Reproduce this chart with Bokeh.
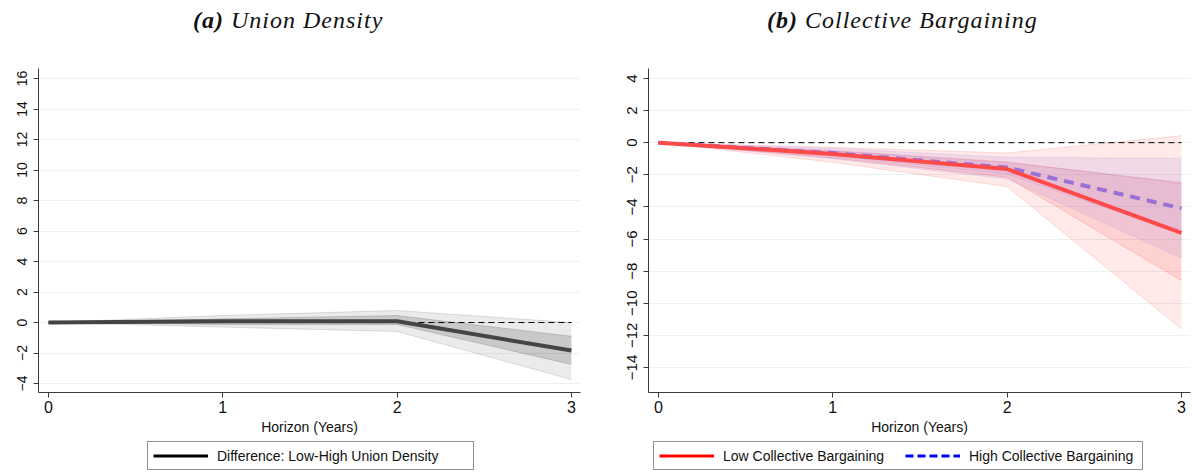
from bokeh.plotting import figure
from bokeh.models import FixedTicker, Legend, LegendItem, Range1d, Div
from bokeh.layouts import row, column
from bokeh.embed import file_html
from bokeh.resources import INLINE

horizon = [0, 1, 2, 3]
zero_line = [0, 0, 0, 0]

# (a) Union density: low minus high union density response
ud_diff = [0.0, 0.08, 0.08, -1.84]
ud_hi_outer = [0.0, 0.46, 0.79, 0.0]
ud_lo_outer = [0.0, -0.30, -0.59, -3.74]
ud_hi_inner = [0.0, 0.24, 0.46, -0.90]
ud_lo_inner = [0.0, -0.13, -0.13, -2.75]
ud_yticks = [-4, -2, 0, 2, 4, 6, 8, 10, 12, 14, 16]

# (b) Collective bargaining: low vs high coverage responses
low_cb = [0.0, -0.70, -1.64, -5.62]
low_hi_outer = [0.0, -0.29, -0.64, 0.44]
low_lo_outer = [0.0, -1.22, -2.74, -11.60]
low_hi_inner = [0.0, -0.50, -1.20, -2.53]
low_lo_inner = [0.0, -0.95, -2.15, -8.59]
high_cb = [0.0, -0.65, -1.55, -4.09]
high_hi_outer = [0.0, -0.35, -0.91, -0.98]
high_lo_outer = [0.0, -1.00, -2.26, -7.18]
high_hi_inner = [0.0, -0.50, -1.25, -2.45]
high_lo_inner = [0.0, -0.85, -1.95, -5.70]
cb_yticks = [-14, -12, -10, -8, -6, -4, -2, 0, 2, 4]

xticks = [0, 1, 2, 3]

SANS = "Liberation Sans"
SERIF = "Liberation Serif"
NAN = float("nan")


def make_panel(y_range, yticks, left_border, right_border, ytick_size):
    p = figure(width=left_border + 542 + right_border, height=381,
               x_range=Range1d(-0.057, 3.052), y_range=y_range,
               output_backend="svg", toolbar_location=None,
               min_border_left=left_border, min_border_right=right_border,
               min_border_top=8, min_border_bottom=49)
    p.outline_line_color = None
    p.xgrid.grid_line_color = None
    p.ygrid.grid_line_color = "#e9f1f2"
    p.xaxis.ticker = FixedTicker(ticks=xticks)
    p.yaxis.ticker = FixedTicker(ticks=yticks)
    for ax in (p.xaxis, p.yaxis):
        ax.axis_line_color = "#3a3a3a"
        ax.major_tick_line_color = "#3a3a3a"
        ax.major_tick_out = 5
        ax.major_tick_in = 0
        ax.minor_tick_line_color = None
        ax.major_label_text_font = SANS
        ax.major_label_text_color = "#111111"
    p.xaxis.major_label_text_font_size = "16px"
    p.xaxis.major_label_standoff = 3
    p.yaxis.major_label_text_font_size = ytick_size
    p.yaxis.major_label_orientation = "vertical"
    p.yaxis.major_label_standoff = 6
    p.xaxis.axis_label = "Horizon (Years)"
    p.xaxis.axis_label_text_font = SANS
    p.xaxis.axis_label_text_font_size = "14px"
    p.xaxis.axis_label_text_font_style = "normal"
    p.xaxis.axis_label_text_color = "#111111"
    p.xaxis.axis_label_standoff = 3
    return p


def band(p, lo, hi, color, alpha, edge_alpha):
    p.varea(x=horizon, y1=lo, y2=hi, fill_color=color, fill_alpha=alpha)
    p.line(horizon, lo, line_color=color, line_alpha=edge_alpha, line_width=1)
    p.line(horizon, hi, line_color=color, line_alpha=edge_alpha, line_width=1)


def title_div(width, left, tag, text):
    html = (f'<div style="margin-left:{left}px; margin-top:5px; line-height:30px; '
            f'white-space:nowrap; font-family:\'{SERIF}\'; font-size:24px; '
            f'letter-spacing:1px; font-style:italic; color:#111111">'
            f'<span style="font-weight:bold">{tag}</span> {text}</div>')
    return Div(text=html, width=width, height=60, margin=0)


def legend_strip(width, offset, entries, label_width, spacing):
    f = figure(width=width, height=31, output_backend="svg", toolbar_location=None,
               x_range=Range1d(0, 1), y_range=Range1d(0, 1),
               x_axis_type=None, y_axis_type=None, min_border=0)
    f.outline_line_color = None
    f.xgrid.grid_line_color = None
    f.ygrid.grid_line_color = None
    items = []
    for label, color, dash in entries:
        # key-only line: a single NaN point, so nothing shows in the strip itself
        r = f.line([NAN], [NAN], line_color=color, line_width=3, line_dash=dash)
        items.append(LegendItem(label=label, renderers=[r]))
    leg = Legend(items=items, orientation="horizontal", location=(offset, 2),
                 glyph_width=55, glyph_height=17, label_height=17, label_standoff=9,
                 label_width=label_width, spacing=spacing, padding=5, margin=0,
                 border_line_color="#222222", border_line_width=1,
                 label_text_font=SANS, label_text_font_size="14px",
                 label_text_color="#111111")
    f.add_layout(leg, "center")
    return f


# ---- panel (a)
pa = make_panel(Range1d(-4.59, 16.66), ud_yticks, 38, 16, "14px")
band(pa, ud_lo_outer, ud_hi_outer, "#000000", 0.08, 0.12)
band(pa, ud_lo_inner, ud_hi_inner, "#000000", 0.14, 0.15)
pa.line(horizon, zero_line, line_color="black", line_dash="6 4", line_width=1)
pa.line(horizon, ud_diff, line_color="#444444", line_width=4)

# ---- panel (b)
pb = make_panel(Range1d(-15.56, 4.62), cb_yticks, 52, 2, "15px")
band(pb, low_lo_outer, low_hi_outer, "#ff3333", 0.11, 0.15)
band(pb, low_lo_inner, low_hi_inner, "#ff3333", 0.12, 0.2)
band(pb, high_lo_outer, high_hi_outer, "#9370db", 0.13, 0.15)
band(pb, high_lo_inner, high_hi_inner, "#9370db", 0.10, 0.12)
pb.line(horizon, zero_line, line_color="black", line_dash="6 4", line_width=1)
pb.line(horizon, high_cb, line_color="#9b70d6", line_width=4, line_dash="10 7")
pb.line(horizon, low_cb, line_color="#ff4a4a", line_width=4)

ta = title_div(596, 193, "(a)", "Union Density")
tb = title_div(596, 171, "(b)", "Collective Bargaining")

la = legend_strip(596, 147, [("Difference: Low-High Union Density", "black", "solid")],
                  251, 18)
lb = legend_strip(596, 57, [("Low Collective Bargaining", "red", "solid"),
                            ("High Collective Bargaining", "blue", "8 4")],
                  168, 14)

layout = column(row(ta, tb, spacing=0), row(pa, pb, spacing=0),
                row(la, lb, spacing=0), spacing=0)
open("out.html", "w").write(file_html(layout, INLINE))
